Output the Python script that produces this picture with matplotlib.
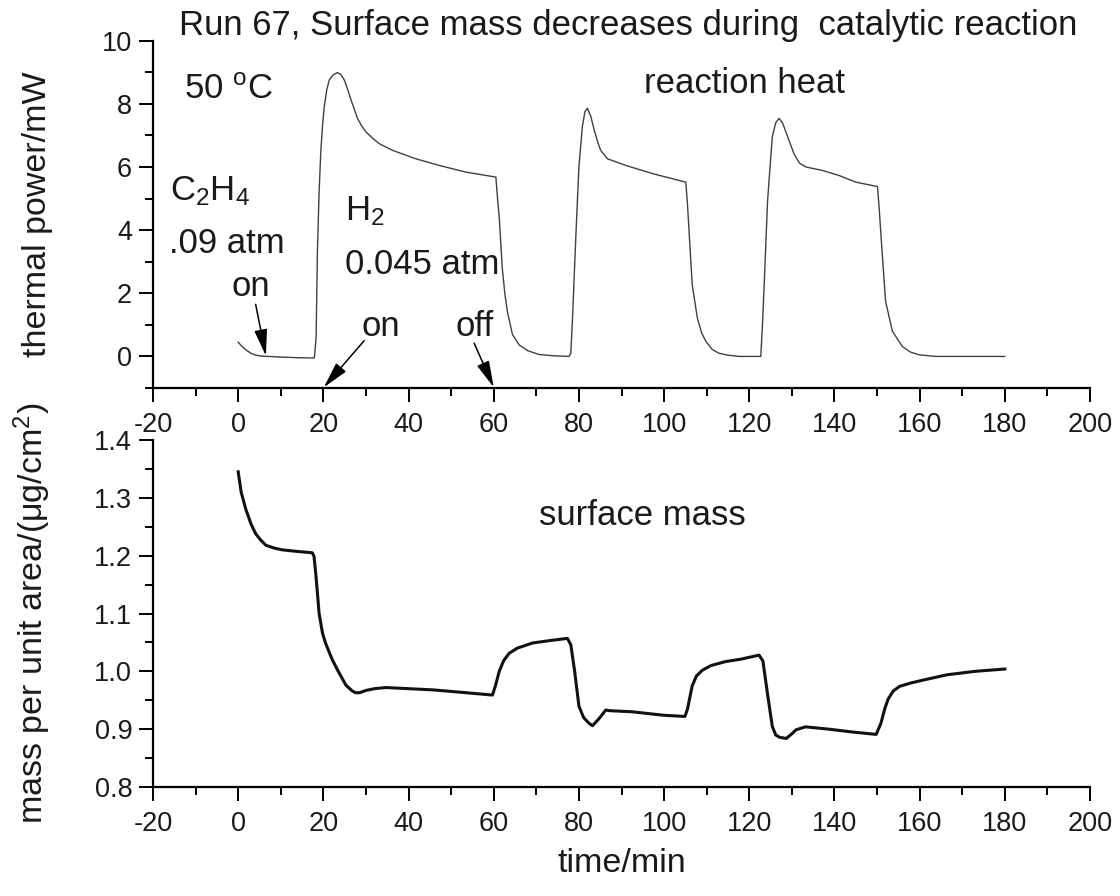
import matplotlib
matplotlib.use("Agg")
import matplotlib.pyplot as plt
from matplotlib.ticker import MultipleLocator

plt.rcParams['font.family'] = ['Liberation Sans', 'DejaVu Sans']
plt.rcParams['mathtext.fontset'] = 'custom'
plt.rcParams['mathtext.rm'] = 'Liberation Sans'
plt.rcParams['mathtext.it'] = 'Liberation Sans'
plt.rcParams['mathtext.default'] = 'regular'
plt.rcParams['axes.unicode_minus'] = False

# ---- thermal power (top panel) ----
power_t = [0, 1, 2, 3, 4.1, 5.5, 7, 10, 14, 17.4, 17.9, 18.3, 18.6, 19.0, 19.4, 19.8, 20.2,
           20.8, 21.4, 22.3, 23.3, 24.1, 24.9, 25.7, 26.5, 27.3, 28.0, 29.0, 30.0, 31.5,
           33.1, 36.2, 41.7, 47.2, 53.4, 60.5, 60.9, 61.3, 62.0, 62.6, 63.2, 64.4, 66.0,
           68.0, 70.7, 74.0, 77.7, 78.1, 78.5, 79.3, 80.0, 80.8, 81.4, 82.0, 82.8, 83.6,
           84.4, 85.1, 86.7, 91.0, 97.3, 105.1, 105.5, 105.9, 106.6, 107.8, 108.8, 109.8,
           111.3, 112.9, 115.0, 117.6, 122.7, 123.1, 123.5, 124.3, 125.4, 126.2, 127.0,
           127.8, 128.6, 130.5, 131.8, 133.3, 137.2, 141.1, 145.0, 150.1, 150.5, 150.9,
           152.0, 153.6, 155.9, 157.8, 159.9, 163.8, 170.0, 180.0]
power_v = [0.45, 0.30, 0.19, 0.10, 0.04, 0.01, 0.0, -0.02, -0.04, -0.05, -0.04, 0.6, 3.3,
           5.2, 6.5, 7.3, 7.9, 8.45, 8.76, 8.92, 8.99, 8.93, 8.76, 8.46, 8.12, 7.82, 7.54,
           7.30, 7.11, 6.92, 6.74, 6.53, 6.26, 6.05, 5.84, 5.68, 5.0, 4.4, 2.81, 2.0, 1.43,
           0.69, 0.36, 0.18, 0.06, 0.02, 0.0, 0.1, 1.22, 3.87, 6.0, 7.27, 7.75, 7.86, 7.6,
           7.17, 6.8, 6.53, 6.26, 6.05, 5.79, 5.52, 4.8, 3.88, 2.28, 1.22, 0.75, 0.48,
           0.22, 0.1, 0.04, 0.0, 0.0, 1.0, 2.28, 4.94, 6.95, 7.4, 7.54, 7.4, 7.11, 6.42,
           6.12, 6.0, 5.89, 5.73, 5.52, 5.38, 4.7, 3.88, 1.75, 0.8, 0.32, 0.14, 0.05, 0.0,
           0.0, 0.0]

# ---- surface mass (bottom panel) ----
mass_t = [0, 0.7, 1.8, 3.0, 4.1, 5.3, 6.5, 8.5, 10.4, 14.3, 17.4, 17.8, 18.2, 18.6, 19.0,
          19.8, 20.5, 22.1, 23.5, 25.3, 26.8, 27.6, 28.5, 30.0, 32.0, 34.7, 40.0, 45.6,
          52.0, 59.7, 60.4, 61.3, 62.3, 63.6, 65.5, 69.1, 73.0, 77.3, 78.1, 79.0, 80.0,
          81.1, 82.4, 83.2, 84.7, 86.3, 87.2, 92.6, 99.9, 104.9, 105.5, 106.6, 107.6,
          109.0, 111.0, 114.5, 118.0, 122.3, 123.2, 124.3, 125.4, 126.2, 127.1, 128.7,
          130.0, 131.0, 133.2, 138.7, 144.3, 149.8, 150.9, 151.8, 152.6, 153.8, 155.3,
          158.0, 160.9, 166.4, 173.0, 180.0]
mass_v = [1.345, 1.31, 1.28, 1.255, 1.238, 1.227, 1.218, 1.213, 1.210, 1.207, 1.205, 1.199,
          1.17, 1.136, 1.10, 1.066, 1.049, 1.020, 1.000, 0.976, 0.966, 0.963, 0.963, 0.967,
          0.970, 0.972, 0.970, 0.968, 0.964, 0.959, 0.975, 1.000, 1.018, 1.031, 1.040,
          1.049, 1.053, 1.057, 1.046, 1.00, 0.940, 0.920, 0.910, 0.906, 0.918, 0.933,
          0.932, 0.930, 0.924, 0.922, 0.935, 0.975, 0.992, 1.002, 1.010, 1.017, 1.021,
          1.028, 1.018, 0.96, 0.905, 0.890, 0.886, 0.884, 0.892, 0.899, 0.904, 0.900,
          0.895, 0.891, 0.910, 0.935, 0.952, 0.966, 0.974, 0.980, 0.985, 0.994, 1.000,
          1.004]

xticks = [-20, 0, 20, 40, 60, 80, 100, 120, 140, 160, 180, 200]
top_yticks = [0, 2, 4, 6, 8, 10]
bot_yticks = [0.8, 0.9, 1.0, 1.1, 1.2, 1.3, 1.4]

W, H = 1120, 896
fig = plt.figure(figsize=(W / 100, H / 100), dpi=100)
L, R = 153, 1090
ax1 = fig.add_axes([L / W, 1 - 388 / H, (R - L) / W, (388 - 40.7) / H])
ax2 = fig.add_axes([L / W, 1 - 787 / H, (R - L) / W, (787 - 440) / H])

txtc = '#1a1a1a'
for ax in (ax1, ax2):
    ax.spines['top'].set_visible(False)
    ax.spines['right'].set_visible(False)
    for s in ('left', 'bottom'):
        ax.spines[s].set_linewidth(1.6)
    ax.set_xlim(-20, 200)
    ax.set_xticks(xticks)
    ax.xaxis.set_minor_locator(MultipleLocator(10))
    ax.tick_params(which='major', direction='out', length=10, width=1.4,
                   labelsize=19.5, pad=5, colors='black', labelcolor=txtc)
    ax.tick_params(axis='x', which='major', pad=7)
    ax.tick_params(which='minor', direction='out', length=5.5, width=1.4)
    ax.patch.set_alpha(0)

ax1.plot(power_t, power_v, color='#404040', lw=1.0)
ax1.set_ylim(-1, 10)
ax1.set_yticks(top_yticks)
ax1.yaxis.set_minor_locator(MultipleLocator(1))
ax1.set_ylabel('thermal power/mW', fontsize=24.5, color=txtc)
ax1.yaxis.set_label_coords(-0.107, 0.5)

ax2.plot(mass_t, mass_v, color='#111111', lw=2.2)
ax2.set_ylim(0.8, 1.4)
ax2.set_yticks(bot_yticks)
ax2.set_yticklabels(['%.1f' % v for v in bot_yticks])
ax2.yaxis.set_minor_locator(MultipleLocator(0.05))
ax2.set_ylabel('mass per unit area/(\u03bcg/cm$^2$)', fontsize=24.5, color=txtc)
ax2.yaxis.set_label_coords(-0.107, 0.5)
ax2.set_xlabel('time/min', fontsize=24.5, color=txtc, labelpad=8)

fig.text(0.561, 0.972, 'Run 67, Surface mass decreases during  catalytic reaction',
         ha='center', va='center', fontsize=25, color=txtc)

fs = 25
ax1.text(-12.7, 8.45, '50 $^{o}$C', fontsize=fs, color=txtc, va='center', ha='left')
ax1.text(95.3, 8.66, 'reaction heat', fontsize=fs, color=txtc, va='center', ha='left')
ax1.text(-16.0, 5.25, 'C$_2$H$_4$', fontsize=fs, color=txtc, va='center', ha='left')
ax1.text(-16.2, 3.57, '.09 atm', fontsize=fs, color=txtc, va='center', ha='left')
ax1.text(3.0, 2.2, 'on', fontsize=fs, color=txtc, va='center', ha='center')
ax1.text(25.0, 4.6, 'H$_2$', fontsize=fs, color=txtc, va='center', ha='left')
ax1.text(25.0, 2.9, '0.045 atm', fontsize=fs, color=txtc, va='center', ha='left')
ax1.text(33.6, 0.95, 'on', fontsize=fs, color=txtc, va='center', ha='center')
ax1.text(55.5, 0.95, 'off', fontsize=fs, color=txtc, va='center', ha='center')

aprops = dict(arrowstyle='-|>,head_length=0.9,head_width=0.22', color='black', lw=1.1,
              shrinkA=0, shrinkB=0, mutation_scale=18)
ax1.annotate('', xy=(6.5, 0.02), xytext=(4.1, 1.65), arrowprops=aprops)
ax1.annotate('', xy=(20.1, -0.98), xytext=(29.6, 0.5), arrowprops=aprops, annotation_clip=False)
ax1.annotate('', xy=(60.0, -0.98), xytext=(55.4, 0.42), arrowprops=aprops, annotation_clip=False)

ax2.text(70.7, 1.27, 'surface mass', fontsize=fs, color=txtc, va='center', ha='left')

fig.savefig('out.png', dpi=100)
